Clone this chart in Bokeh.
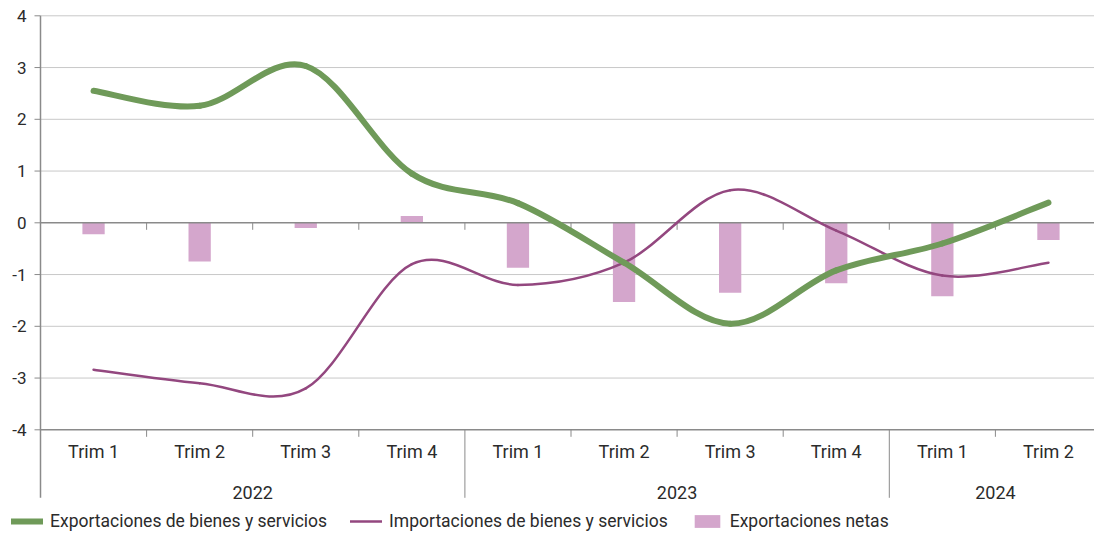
from bokeh.plotting import figure
from bokeh.models import ColumnDataSource, Range1d, Legend, LegendItem
from bokeh.core.properties import value
from bokeh.embed import file_html
from bokeh.resources import INLINE

# ---------------- data ----------------
years = ["2022", "2023", "2024"]
quarters_per_year = [4, 4, 2]
quarter_labels = ["Trim 1", "Trim 2", "Trim 3", "Trim 4",
                  "Trim 1", "Trim 2", "Trim 3", "Trim 4",
                  "Trim 1", "Trim 2"]
exports = [2.55, 2.26, 3.03, 0.95, 0.38, -0.77, -1.95, -0.92, -0.40, 0.39]
imports = [-2.84, -3.10, -3.20, -0.80, -1.20, -0.77, 0.63, -0.15, -1.02, -0.77]
net_exports = [-0.22, -0.75, -0.10, 0.13, -0.87, -1.53, -1.35, -1.17, -1.42, -0.33]
y_ticks = [-4, -3, -2, -1, 0, 1, 2, 3, 4]
y_tick_labels = ["-4", "-3", "-2", "-1", "0", "1", "2", "3", "4"]
series_names = ["Exportaciones de bienes y servicios",
                "Importaciones de bienes y servicios",
                "Exportaciones netas"]

# ---------------- styles / layout ----------------
FONT = value("Roboto")
TXT = "#2b2b2b"
AXIS = "#8a8a8a"
GRID = "#c8c8c8"
GREEN = "#6f9a59"
PURPLE = "#93477f"
PINK = "#d4a6cc"

W, H = 1094, 533
PX_X = 106.1      # pixels per quarter slot
PX_Y = 51.75      # pixels per unit
ORIGIN_LEFT = 40  # px from canvas left to the value axis
TOP_PAD = 15.3    # px from canvas top to the top gridline


def dx(px):
    return px / PX_X


def dy(px):
    return px / PX_Y


y_top, y_bot = y_ticks[-1], y_ticks[0]
x_min = -dx(ORIGIN_LEFT)
x_max = x_min + dx(W)
y_max = y_top + dy(TOP_PAD)
y_min = y_max - dy(H)

n = len(quarter_labels)
centers = [i + 0.5 for i in range(n)]
bounds = [0]
for q in quarters_per_year:
    bounds.append(bounds[-1] + q)
year_centers = [(bounds[i] + bounds[i + 1]) / 2 for i in range(len(years))]
inner_bounds = list(range(1, n))
year_bounds = [b for b in bounds[1:-1]]
minor_bounds = [b for b in inner_bounds if b not in year_bounds]
sep_bottom = y_bot - dy(68)


def smooth_segments(xs, ys):
    """Bezier control points for an Excel-like smoothed line."""
    X = [xs[0]] + list(xs) + [xs[-1]]
    Y = [ys[0]] + list(ys) + [ys[-1]]
    d = dict(x0=[], y0=[], x1=[], y1=[], cx0=[], cy0=[], cx1=[], cy1=[])
    for k in range(1, len(xs)):
        d["x0"].append(X[k]); d["y0"].append(Y[k])
        d["x1"].append(X[k + 1]); d["y1"].append(Y[k + 1])
        d["cx0"].append(X[k] + (X[k + 1] - X[k - 1]) / 6)
        d["cy0"].append(Y[k] + (Y[k + 1] - Y[k - 1]) / 6)
        d["cx1"].append(X[k + 1] - (X[k + 2] - X[k]) / 6)
        d["cy1"].append(Y[k + 1] - (Y[k + 2] - Y[k]) / 6)
    return ColumnDataSource(d)


p = figure(width=W, height=H, x_range=Range1d(x_min, x_max), y_range=Range1d(y_min, y_max),
           output_backend="svg", toolbar_location=None,
           x_axis_location=None, y_axis_location=None,
           min_border=0, min_border_left=0, min_border_right=0,
           min_border_top=0, min_border_bottom=0)
p.outline_line_color = None
p.grid.visible = False

# light gridlines
grid_vals = [v for v in y_ticks if v not in (0, y_bot)]
p.segment(x0=[0] * len(grid_vals), x1=[x_max] * len(grid_vals), y0=grid_vals, y1=grid_vals,
          line_color=GRID, line_width=1)

# bars
bar_src = ColumnDataSource(dict(x=centers, top=net_exports))
r_bar = p.vbar(x="x", top="top", bottom=0, width=0.21, source=bar_src,
               fill_color=PINK, line_color=None)

# zero line with its boundary ticks
p.segment(x0=[0], x1=[x_max], y0=[0], y1=[0], line_color=AXIS, line_width=1.5)
p.segment(x0=inner_bounds, x1=inner_bounds, y0=[0] * len(inner_bounds),
          y1=[-dy(7)] * len(inner_bounds), line_color=AXIS, line_width=1)

# bottom category axis line, short ticks and year separators
p.segment(x0=[0], x1=[x_max], y0=[y_bot], y1=[y_bot], line_color=AXIS, line_width=1.5)
p.segment(x0=minor_bounds, x1=minor_bounds, y0=[y_bot] * len(minor_bounds),
          y1=[y_bot - dy(7)] * len(minor_bounds), line_color=AXIS, line_width=1)
p.segment(x0=year_bounds, x1=year_bounds, y0=[y_bot] * len(year_bounds),
          y1=[sep_bottom] * len(year_bounds), line_color=AXIS, line_width=1)

# value axis line, ticks, labels
p.segment(x0=[0], x1=[0], y0=[y_top], y1=[sep_bottom], line_color=AXIS, line_width=1.5)
p.segment(x0=[-dx(6)] * len(y_ticks), x1=[0] * len(y_ticks), y0=y_ticks, y1=y_ticks,
          line_color=AXIS, line_width=1)
p.text(x=[-dx(14)] * len(y_ticks), y=y_ticks, text=y_tick_labels, text_align="right",
       text_baseline="middle", text_font=FONT, text_font_size="17px", text_color=TXT)

# smoothed lines
r_imp = p.bezier(source=smooth_segments(centers, imports), x0="x0", y0="y0", x1="x1", y1="y1",
                 cx0="cx0", cy0="cy0", cx1="cx1", cy1="cy1",
                 line_color=PURPLE, line_width=2.5, line_cap="round")
r_exp = p.bezier(source=smooth_segments(centers, exports), x0="x0", y0="y0", x1="x1", y1="y1",
                 cx0="cx0", cy0="cy0", cx1="cx1", cy1="cy1",
                 line_color=GREEN, line_width=6, line_cap="round")

# category labels
p.text(x=centers, y=[y_bot - dy(22)] * n, text=quarter_labels, text_align="center",
       text_baseline="middle", text_font=FONT, text_font_size="18px", text_color=TXT)
p.text(x=year_centers, y=[y_bot - dy(63)] * len(years), text=years, text_align="center",
       text_baseline="middle", text_font=FONT, text_font_size="18px", text_color=TXT)

legend = Legend(items=[LegendItem(label=series_names[0], renderers=[r_exp]),
                       LegendItem(label=series_names[1], renderers=[r_imp]),
                       LegendItem(label=series_names[2], renderers=[r_bar])],
                location=(11, 2), orientation="horizontal",
                glyph_width=32, glyph_height=16, label_height=20,
                label_standoff=7, spacing=23,
                padding=0, margin=0, border_line_color=None, background_fill_alpha=0,
                label_text_font="Roboto", label_text_font_size="17.5px",
                label_text_color=TXT)
p.add_layout(legend)

open("out.html", "w").write(file_html(p, INLINE))
